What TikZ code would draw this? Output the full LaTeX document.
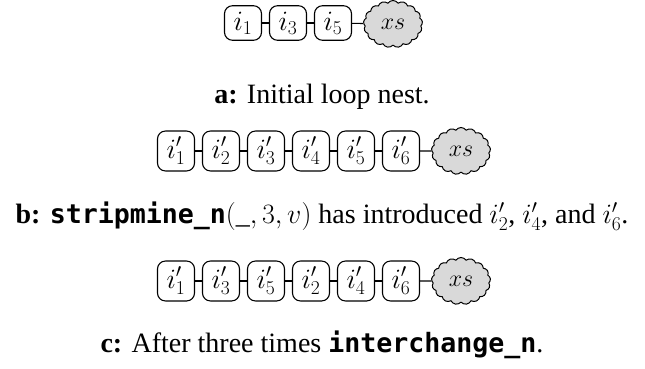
\RequirePackage{fix-cm}
\documentclass[tikz,border=0pt]{standalone}
\usepackage[no-math]{fontspec}
\setmainfont{Liberation Serif}
\newfontfamily\codefont[Scale=0.95]{DejaVu Sans Mono}
\usetikzlibrary{shapes.symbols}
\begin{document}
\begin{tikzpicture}[x=1pt,y=-1pt,font=\fontsize{28}{33}\selectfont,
  loopbox/.style={draw, rounded corners=8pt, line width=1.1pt, minimum width=37pt, inner xsep=2pt, inner ysep=6pt},
  rest/.style={cloud, cloud puffs=17, cloud puff arc=110, cloud ignores aspect, draw, fill=gray!30, line width=1pt, minimum width=59pt, minimum height=47pt, inner sep=0pt, font=\fontsize{24}{28}\selectfont},
  link/.style={line width=1.1pt},
  caption/.style={anchor=center, inner sep=0pt}]
\useasboundingbox (0,0) rectangle (645,369);
% row a
\node[loopbox] (a1) at (243,23) {$i_1$};
\node[loopbox] (a2) at (288,23) {$i_3$};
\node[loopbox] (a3) at (333,23) {$i_5$};
\node[rest] (ax) at (393,24) {$xs$};
\draw[link] (a1) -- (a2); \draw[link] (a2) -- (a3); \draw[link] (a3) -- (ax);
\node[caption] (ca) at (322,97) {\textbf{a:} Initial loop nest.};
% row b
\node[loopbox] (b1) at (176,151) {$i'_1$};
\node[loopbox] (b2) at (221,151) {$i'_2$};
\node[loopbox] (b3) at (266,151) {$i'_3$};
\node[loopbox] (b4) at (311,151) {$i'_4$};
\node[loopbox] (b5) at (356,151) {$i'_5$};
\node[loopbox] (b6) at (401,151) {$i'_6$};
\node[rest] (bx) at (461,151) {$xs$};
\draw[link] (b1) -- (b2); \draw[link] (b2) -- (b3); \draw[link] (b3) -- (b4);
\draw[link] (b4) -- (b5); \draw[link] (b5) -- (b6); \draw[link] (b6) -- (bx);
\node[caption] (cb) at (322,216) {\textbf{b:} {\codefont\bfseries stripmine\_n}$(\_, 3, v)$ has introduced $i'_2$, $i'_4$, and $i'_6$.};
% row c
\node[loopbox] (c1) at (176,281) {$i'_1$};
\node[loopbox] (c2) at (221,281) {$i'_3$};
\node[loopbox] (c3) at (266,281) {$i'_5$};
\node[loopbox] (c4) at (311,281) {$i'_2$};
\node[loopbox] (c5) at (356,281) {$i'_4$};
\node[loopbox] (c6) at (401,281) {$i'_6$};
\node[rest] (cx) at (461,281) {$xs$};
\draw[link] (c1) -- (c2); \draw[link] (c2) -- (c3); \draw[link] (c3) -- (c4);
\draw[link] (c4) -- (c5); \draw[link] (c5) -- (c6); \draw[link] (c6) -- (cx);
\node[caption] (cc) at (322,345) {\textbf{c:} After three times {\codefont\bfseries interchange\_n}.};
\end{tikzpicture}
\end{document}
